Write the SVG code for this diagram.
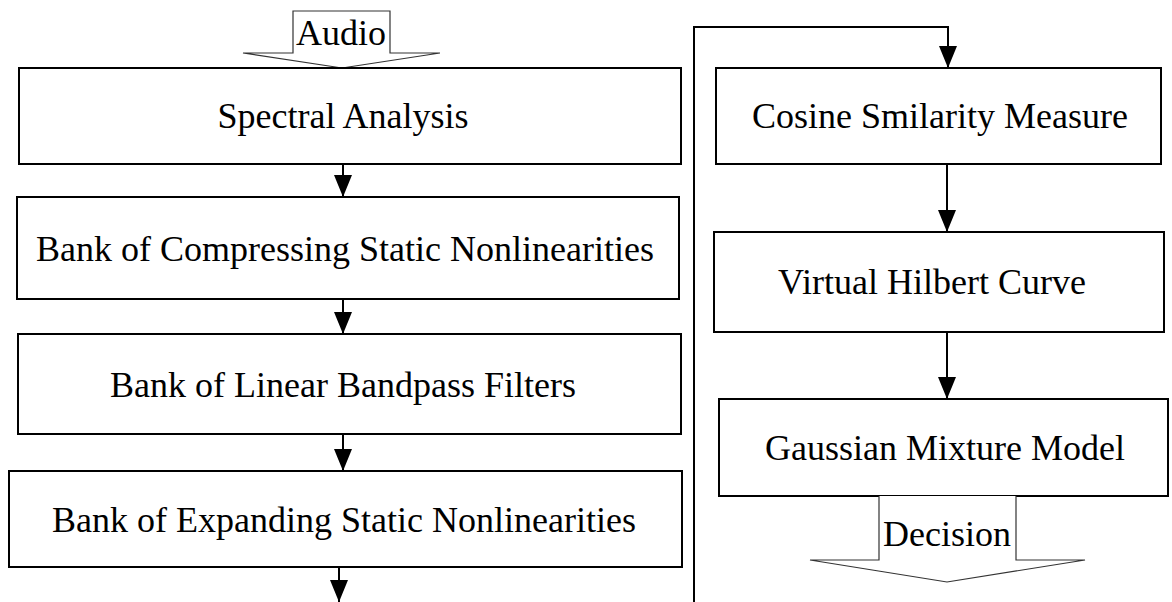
<svg xmlns="http://www.w3.org/2000/svg" width="1172" height="602" viewBox="0 0 1172 602">
  <style>
    .box { fill: #fff; stroke: #000; stroke-width: 2; }
    .label { font-family: "Liberation Serif", "Times New Roman", serif; font-size: 36px; fill: #000; text-anchor: middle; }
    .wire { fill: none; stroke: #000; stroke-width: 2; }
    .block-arrow { fill: #fff; stroke: #333; stroke-width: 1.2; stroke-linejoin: miter; }
  </style>
  <defs>
    <marker id="head" markerUnits="userSpaceOnUse" markerWidth="22" markerHeight="18" refX="22" refY="9" orient="auto" viewBox="0 0 22 18">
      <path d="M0,0 L22,9 L0,18 Z" fill="#000"/>
    </marker>
  </defs>
  <rect width="1172" height="602" fill="#fff"/>

  <!-- input / output block arrows -->
  <g id="audio-in">
    <polygon class="block-arrow" points="293,11 390,11 390,53 440,53 342,68 243,53 293,53"/>
    <text class="label" x="341" y="45">Audio</text>
  </g>

  <!-- left column -->
  <g id="spectral">
    <rect class="box" x="19" y="68" width="662" height="96"/>
    <text class="label" x="343" y="128">Spectral Analysis</text>
  </g>
  <g id="compress">
    <rect class="box" x="17" y="197" width="662" height="102"/>
    <text class="label" x="345" y="261">Bank of Compressing Static Nonlinearities</text>
  </g>
  <g id="bandpass">
    <rect class="box" x="18" y="334" width="663" height="100"/>
    <text class="label" x="343" y="397">Bank of Linear Bandpass Filters</text>
  </g>
  <g id="expand">
    <rect class="box" x="9" y="471" width="673" height="96"/>
    <text class="label" x="344" y="532">Bank of Expanding Static Nonlinearities</text>
  </g>

  <!-- right column -->
  <g id="cosine">
    <rect class="box" x="716" y="68" width="445" height="96"/>
    <text class="label" x="940" y="128">Cosine Smilarity Measure</text>
  </g>
  <g id="hilbert">
    <rect class="box" x="714" y="232" width="450" height="100"/>
    <text class="label" x="932" y="294">Virtual Hilbert Curve</text>
  </g>
  <g id="gmm">
    <rect class="box" x="719" y="399" width="449" height="97"/>
    <text class="label" x="945" y="460">Gaussian Mixture Model</text>
  </g>
  <g id="decision-out">
    <path class="block-arrow" d="M879,496 V560 H810 L947,582 L1085,560 H1016 V496"/>
    <text class="label" x="947" y="546">Decision</text>
  </g>

  <!-- connectors -->
  <g id="connectors">
    <line class="wire" x1="343" y1="164" x2="343" y2="197" marker-end="url(#head)"/>
    <line class="wire" x1="343" y1="299" x2="343" y2="334" marker-end="url(#head)"/>
    <line class="wire" x1="343" y1="434" x2="343" y2="471" marker-end="url(#head)"/>
    <line class="wire" x1="339" y1="567" x2="339" y2="602" marker-end="url(#head)"/>
    <polyline class="wire" points="694,602 694,27 948,27 948,68" marker-end="url(#head)"/>
    <line class="wire" x1="947" y1="164" x2="947" y2="232" marker-end="url(#head)"/>
    <line class="wire" x1="947" y1="332" x2="947" y2="399" marker-end="url(#head)"/>
  </g>
</svg>
